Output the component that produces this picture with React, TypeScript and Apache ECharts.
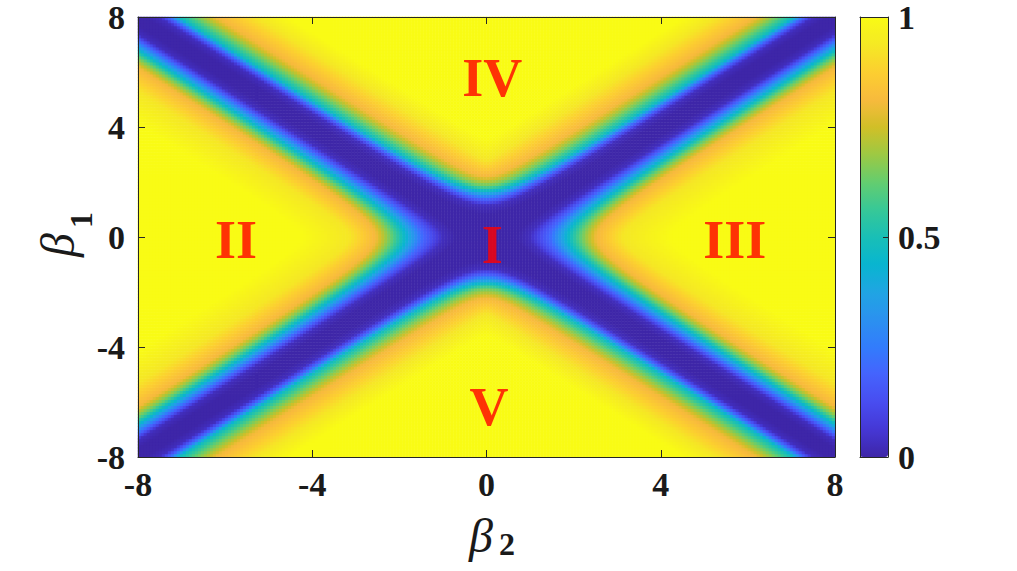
import React, { useEffect, useRef } from "react";
import * as echarts from "echarts";

// Axis ticks
const beta2Ticks = [-8, -4, 0, 4, 8];
const beta1Ticks = [-8, -4, 0, 4, 8];
const colorbarTicks = [0, 0.5, 1];

// Contour levels (value on the colour bar)
const contourLevels = [0.03, 0.2, 0.48, 0.62, 0.8, 0.93, 1.0];
// Regions IV / V side: where each level crosses the beta1 axis (beta2 = 0)
const beta1AxisCrossing = [1.15, 1.4, 1.7, 1.85, 2.2, 2.8, 3.6];
// ... and its offset |beta1| - |beta2| far along the X arms
const beta1ArmOffset = [0.46, 0.68, 0.9, 1.26, 1.76, 2.7, 3.45];
// Regions II / III side: where each level crosses the beta2 axis (beta1 = 0)
const beta2AxisCrossing = [1.0, 1.46, 1.92, 2.17, 2.52, 3.13, 4.28];
// ... and its offset |beta2| - |beta1| far along the X arms
const beta2ArmOffset = [0.6, 0.83, 1.19, 1.39, 1.76, 2.66, 3.85];

// Region labels
const regionNames = ["IV", "II", "I", "III", "V"];
const regionBeta2 = [0.13, -5.75, 0.13, 5.7, 0.06];
const regionBeta1 = [5.78, -0.1, -0.3, -0.1, -6.18];

// parula colour map
const parula = [
  "#3e26a8", "#4537d5", "#484df0", "#4563fd", "#327cfc", "#2b91ef",
  "#20a5e3", "#08b5d0", "#19bfb6", "#37c897", "#64cd6f", "#9dc943",
  "#d1bf27", "#f8ba3d", "#fccf30", "#f5e924", "#f9fb15",
];

const nCols = 232;
const nRows = 146;

function sideValue(p: number, q: number, crossing: number[], offset: number[]) {
  const pos = crossing.map((c, k) => offset[k] + Math.sqrt(q * q + (c - offset[k]) * (c - offset[k])));
  if (p <= pos[0]) return Math.max(0, contourLevels[0] * (1 - (pos[0] - p) / 0.3));
  for (let k = 0; k < pos.length - 1; k++) {
    if (p < pos[k + 1]) {
      const f = (p - pos[k]) / (pos[k + 1] - pos[k]);
      return contourLevels[k] + f * (contourLevels[k + 1] - contourLevels[k]);
    }
  }
  return 1;
}

function buildData() {
  const data: number[][] = [];
  for (let i = 0; i < nCols; i++) {
    const b2 = -8 + ((i + 0.5) * 16) / nCols;
    for (let j = 0; j < nRows; j++) {
      const b1 = -8 + ((j + 0.5) * 16) / nRows;
      const a = Math.abs(b1);
      const b = Math.abs(b2);
      const v = Math.max(
        sideValue(a, b, beta1AxisCrossing, beta1ArmOffset),
        sideValue(b, a, beta2AxisCrossing, beta2ArmOffset)
      );
      data.push([i, j, +v.toFixed(4)]);
    }
  }
  return data;
}

const FONT = "'Liberation Serif', 'Times New Roman', serif";
const AX = "#262626";

export default function App() {
  const ref = useRef<HTMLDivElement>(null);
  useEffect(() => {
    if (!ref.current) return;
    const chart = echarts.init(ref.current, undefined, { renderer: "svg" });
    const tickLabel = { fontFamily: FONT, fontWeight: "bold", fontSize: 34, color: "#1a1a1a" };
    const line = { show: true, onZero: false, lineStyle: { color: AX, width: 1 } };
    chart.setOption({
      animation: false,
      backgroundColor: "#ffffff",
      grid: [
        { left: 138, top: 17, width: 697, height: 440 },
        { left: 860, top: 17, width: 28, height: 440 },
      ],
      xAxis: [
        { type: "category", gridIndex: 0, data: Array.from({ length: nCols }, (_, i) => i), show: false },
        {
          type: "value", gridIndex: 0, min: beta2Ticks[0], max: beta2Ticks[4], interval: 4, position: "bottom",
          axisLine: line, axisTick: { inside: true, length: 7, lineStyle: { color: AX } },
          axisLabel: { ...tickLabel, margin: 10 }, splitLine: { show: false }, z: 10,
        },
        {
          type: "value", gridIndex: 0, min: -8, max: 8, interval: 4, position: "top",
          axisLine: line, axisTick: { inside: true, length: 7, lineStyle: { color: AX } },
          axisLabel: { show: false }, splitLine: { show: false }, z: 10,
        },
        {
          type: "value", gridIndex: 1, min: 0, max: 1, position: "bottom",
          axisLine: line, axisTick: { show: false }, axisLabel: { show: false }, splitLine: { show: false }, z: 10,
        },
        {
          type: "value", gridIndex: 1, min: 0, max: 1, position: "top",
          axisLine: line, axisTick: { show: false }, axisLabel: { show: false }, splitLine: { show: false }, z: 10,
        },
      ],
      yAxis: [
        { type: "category", gridIndex: 0, data: Array.from({ length: nRows }, (_, j) => j), show: false },
        {
          type: "value", gridIndex: 0, min: beta1Ticks[0], max: beta1Ticks[4], interval: 4, position: "left",
          axisLine: line, axisTick: { inside: true, length: 7, lineStyle: { color: AX } },
          axisLabel: { ...tickLabel, margin: 13 }, splitLine: { show: false }, z: 10,
        },
        {
          type: "value", gridIndex: 0, min: -8, max: 8, interval: 4, position: "right",
          axisLine: line, axisTick: { inside: true, length: 7, lineStyle: { color: AX } },
          axisLabel: { show: false }, splitLine: { show: false }, z: 10,
        },
        {
          type: "value", gridIndex: 1, min: colorbarTicks[0], max: colorbarTicks[2], interval: 0.5, position: "right",
          axisLine: line, axisTick: { inside: true, length: 5, lineStyle: { color: AX } },
          axisLabel: { ...tickLabel, margin: 10, formatter: (v: number) => String(v) }, splitLine: { show: false }, z: 10,
        },
        {
          type: "value", gridIndex: 1, min: 0, max: 1, position: "left",
          axisLine: line, axisTick: { show: false }, axisLabel: { show: false }, splitLine: { show: false }, z: 10,
        },
      ],
      visualMap: {
        type: "continuous", min: 0, max: 1, seriesIndex: 0, orient: "vertical",
        left: 860, top: 17, itemWidth: 28, itemHeight: 440, padding: 0,
        calculable: false, hoverLink: false, inRange: { color: parula }, z: 1,
      },
      series: [
        {
          type: "heatmap", xAxisIndex: 0, yAxisIndex: 0, data: buildData(),
          progressive: 0, silent: true, emphasis: { disabled: true },
        },
        {
          type: "scatter", xAxisIndex: 1, yAxisIndex: 1, symbol: "circle", symbolSize: 1, silent: true, z: 12,
          itemStyle: { color: "rgba(0,0,0,0)" },
          data: regionNames.map((n, i) => ({ name: n, value: [regionBeta2[i], regionBeta1[i]] })),
          label: {
            show: true, position: "inside", formatter: (p: any) => p.name,
            fontFamily: FONT, fontWeight: "bold", fontSize: 54, color: "#ff0000",
          },
        },
      ],
      graphic: [
        { type: "text", x: 481, y: 535, style: { text: "β", font: `italic 48px ${FONT}`, fill: "#1a1a1a", align: "center", verticalAlign: "middle" } },
        { type: "text", x: 507, y: 544, style: { text: "2", font: `bold 32px ${FONT}`, fill: "#1a1a1a", align: "center", verticalAlign: "middle" } },
        {
          type: "group", x: 57, y: 245, rotation: Math.PI / 2,
          children: [
            { type: "text", x: 0, y: 0, style: { text: "β", font: `italic 48px ${FONT}`, fill: "#1a1a1a", align: "center", verticalAlign: "middle" } },
            { type: "text", x: 25, y: 24, style: { text: "1", font: `bold 32px ${FONT}`, fill: "#1a1a1a", align: "center", verticalAlign: "middle" } },
          ],
        },
      ],
    });
    return () => chart.dispose();
  }, []);
  return (
    <div
      ref={ref}
      style={{ position: "fixed", left: 0, top: 0, width: 1017, height: 571, background: "#fff" }}
    />
  );
}
